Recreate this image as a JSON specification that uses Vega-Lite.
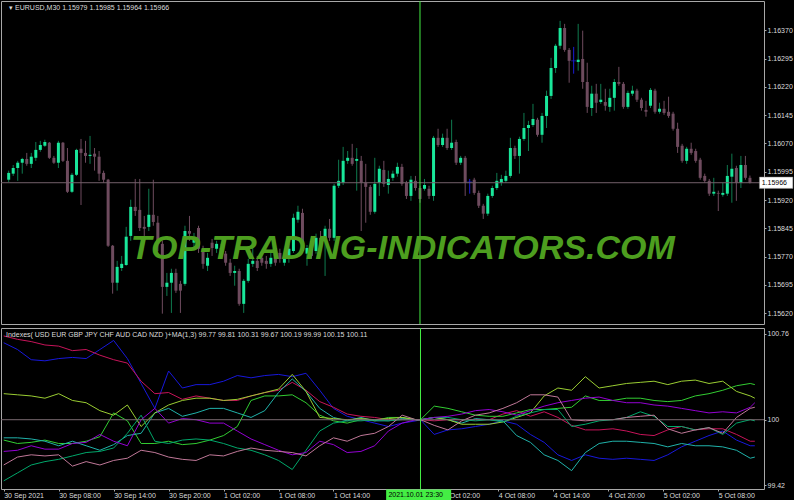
{
"$schema": "https://vega.github.io/schema/vega-lite/v6.json",
"background": "#000000",
"padding": 0,
"autosize": {"type": "pad"},
"spacing": 2,
"resolve": {"scale": {"x": "independent", "y": "independent", "color": "independent"}},
"config": {
  "view": {"stroke": "#a8a8a8", "strokeWidth": 1},
  "axis": {"grid": false, "domain": false, "title": null, "labelFont": "Liberation Sans", "labelFontSize": 7, "labelColor": "#dcdcdc", "tickColor": "#a8a8a8", "tickSize": 2, "labelPadding": 1, "labelBound": false, "labelFlush": false, "labelOverlap": false, "labelSeparation": 0},
  "text": {"font": "Liberation Sans"}
},
"datasets": {
"one": [{"k": 1}],
"candles": [
{"i":0,"o":1.15974,"h":1.15998,"l":1.15968,"c":1.15992},
{"i":1,"o":1.15990,"h":1.16013,"l":1.15984,"c":1.16005},
{"i":2,"o":1.16005,"h":1.16024,"l":1.15971,"c":1.16019},
{"i":3,"o":1.16019,"h":1.16032,"l":1.15990,"c":1.16029},
{"i":4,"o":1.16029,"h":1.16045,"l":1.16011,"c":1.16016},
{"i":5,"o":1.16016,"h":1.16045,"l":1.16005,"c":1.16035},
{"i":6,"o":1.16032,"h":1.16074,"l":1.16024,"c":1.16053},
{"i":7,"o":1.16053,"h":1.16077,"l":1.16048,"c":1.16066},
{"i":8,"o":1.16064,"h":1.16080,"l":1.16061,"c":1.16074},
{"i":9,"o":1.16072,"h":1.16074,"l":1.16029,"c":1.16032},
{"i":10,"o":1.16032,"h":1.16037,"l":1.16016,"c":1.16019},
{"i":11,"o":1.16019,"h":1.16077,"l":1.16005,"c":1.16072},
{"i":12,"o":1.16072,"h":1.16074,"l":1.16021,"c":1.16024},
{"i":13,"o":1.16024,"h":1.16058,"l":1.15939,"c":1.15942},
{"i":14,"o":1.15942,"h":1.15992,"l":1.15939,"c":1.15987},
{"i":15,"o":1.15987,"h":1.16056,"l":1.15984,"c":1.16053},
{"i":16,"o":1.16056,"h":1.16082,"l":1.15907,"c":1.16045},
{"i":17,"o":1.16045,"h":1.16077,"l":1.16019,"c":1.16037},
{"i":18,"o":1.16037,"h":1.16090,"l":1.16016,"c":1.16040},
{"i":19,"o":1.16043,"h":1.16058,"l":1.15998,"c":1.16035},
{"i":20,"o":1.16035,"h":1.16050,"l":1.15971,"c":1.15990},
{"i":21,"o":1.15992,"h":1.15998,"l":1.15966,"c":1.15974},
{"i":22,"o":1.15974,"h":1.15976,"l":1.15796,"c":1.15799},
{"i":23,"o":1.15799,"h":1.15801,"l":1.15672,"c":1.15701},
{"i":24,"o":1.15701,"h":1.15759,"l":1.15680,"c":1.15743},
{"i":25,"o":1.15740,"h":1.15772,"l":1.15732,"c":1.15751},
{"i":26,"o":1.15748,"h":1.15849,"l":1.15746,"c":1.15823},
{"i":27,"o":1.15825,"h":1.15921,"l":1.15812,"c":1.15902},
{"i":28,"o":1.15902,"h":1.15976,"l":1.15878,"c":1.15891},
{"i":29,"o":1.15894,"h":1.15976,"l":1.15838,"c":1.15846},
{"i":30,"o":1.15849,"h":1.15878,"l":1.15825,"c":1.15844},
{"i":31,"o":1.15849,"h":1.15950,"l":1.15838,"c":1.15881},
{"i":32,"o":1.15881,"h":1.15974,"l":1.15852,"c":1.15862},
{"i":33,"o":1.15860,"h":1.15878,"l":1.15785,"c":1.15804},
{"i":34,"o":1.15804,"h":1.15812,"l":1.15619,"c":1.15690},
{"i":35,"o":1.15690,"h":1.15727,"l":1.15666,"c":1.15701},
{"i":36,"o":1.15701,"h":1.15738,"l":1.15621,"c":1.15727},
{"i":37,"o":1.15727,"h":1.15738,"l":1.15674,"c":1.15680},
{"i":38,"o":1.15698,"h":1.15706,"l":1.15621,"c":1.15680},
{"i":39,"o":1.15698,"h":1.15852,"l":1.15693,"c":1.15838},
{"i":40,"o":1.15838,"h":1.15878,"l":1.15812,"c":1.15831},
{"i":41,"o":1.15807,"h":1.15833,"l":1.15791,"c":1.15820},
{"i":42,"o":1.15846,"h":1.15852,"l":1.15780,"c":1.15791},
{"i":43,"o":1.15791,"h":1.15799,"l":1.15738,"c":1.15751},
{"i":44,"o":1.15746,"h":1.15780,"l":1.15732,"c":1.15767},
{"i":45,"o":1.15807,"h":1.15817,"l":1.15772,"c":1.15793},
{"i":46,"o":1.15791,"h":1.15812,"l":1.15780,"c":1.15804},
{"i":47,"o":1.15793,"h":1.15804,"l":1.15764,"c":1.15778},
{"i":48,"o":1.15778,"h":1.15785,"l":1.15746,"c":1.15754},
{"i":49,"o":1.15754,"h":1.15764,"l":1.15719,"c":1.15727},
{"i":50,"o":1.15727,"h":1.15746,"l":1.15693,"c":1.15732},
{"i":51,"o":1.15732,"h":1.15738,"l":1.15640,"c":1.15645},
{"i":52,"o":1.15645,"h":1.15711,"l":1.15621,"c":1.15706},
{"i":53,"o":1.15706,"h":1.15764,"l":1.15701,"c":1.15751},
{"i":54,"o":1.15751,"h":1.15799,"l":1.15743,"c":1.15759},
{"i":55,"o":1.15759,"h":1.15772,"l":1.15732,"c":1.15740},
{"i":56,"o":1.15767,"h":1.15778,"l":1.15746,"c":1.15754},
{"i":57,"o":1.15759,"h":1.15772,"l":1.15738,"c":1.15751},
{"i":58,"o":1.15751,"h":1.15785,"l":1.15743,"c":1.15767},
{"i":59,"o":1.15793,"h":1.15799,"l":1.15746,"c":1.15754},
{"i":60,"o":1.15780,"h":1.15791,"l":1.15754,"c":1.15764},
{"i":61,"o":1.15754,"h":1.15780,"l":1.15746,"c":1.15767},
{"i":62,"o":1.15764,"h":1.15804,"l":1.15754,"c":1.15791},
{"i":63,"o":1.15785,"h":1.15884,"l":1.15780,"c":1.15873},
{"i":64,"o":1.15868,"h":1.15905,"l":1.15860,"c":1.15889},
{"i":65,"o":1.15886,"h":1.15897,"l":1.15780,"c":1.15785},
{"i":66,"o":1.15778,"h":1.15801,"l":1.15746,"c":1.15793},
{"i":67,"o":1.15812,"h":1.15825,"l":1.15764,"c":1.15772},
{"i":68,"o":1.15785,"h":1.15831,"l":1.15778,"c":1.15820},
{"i":69,"o":1.15820,"h":1.15838,"l":1.15791,"c":1.15799},
{"i":70,"o":1.15820,"h":1.15852,"l":1.15719,"c":1.15844},
{"i":71,"o":1.15844,"h":1.15870,"l":1.15812,"c":1.15820},
{"i":72,"o":1.15820,"h":1.15963,"l":1.15812,"c":1.15958},
{"i":73,"o":1.15958,"h":1.16027,"l":1.15952,"c":1.15971},
{"i":74,"o":1.15966,"h":1.16061,"l":1.15960,"c":1.16024},
{"i":75,"o":1.16024,"h":1.16050,"l":1.16016,"c":1.16032},
{"i":76,"o":1.16032,"h":1.16069,"l":1.16011,"c":1.16016},
{"i":77,"o":1.16024,"h":1.16058,"l":1.15945,"c":1.16029},
{"i":78,"o":1.16024,"h":1.16037,"l":1.15838,"c":1.15966},
{"i":79,"o":1.15966,"h":1.16016,"l":1.15860,"c":1.15955},
{"i":80,"o":1.15955,"h":1.15960,"l":1.15881,"c":1.15889},
{"i":81,"o":1.15889,"h":1.16032,"l":1.15884,"c":1.15963},
{"i":82,"o":1.15966,"h":1.16011,"l":1.15931,"c":1.16003},
{"i":83,"o":1.16000,"h":1.16024,"l":1.15955,"c":1.15963},
{"i":84,"o":1.15960,"h":1.15998,"l":1.15937,"c":1.15976},
{"i":85,"o":1.15979,"h":1.15998,"l":1.15971,"c":1.15990},
{"i":86,"o":1.15990,"h":1.16019,"l":1.15982,"c":1.16008},
{"i":87,"o":1.16008,"h":1.16016,"l":1.15958,"c":1.15963},
{"i":88,"o":1.15966,"h":1.15971,"l":1.15923,"c":1.15931},
{"i":89,"o":1.15931,"h":1.15984,"l":1.15918,"c":1.15974},
{"i":90,"o":1.15971,"h":1.15984,"l":1.15945,"c":1.15952},
{"i":91,"o":1.15952,"h":1.15958,"l":1.15913,"c":1.15923},
{"i":92,"o":1.15950,"h":1.15976,"l":1.15945,"c":1.15960},
{"i":93,"o":1.15950,"h":1.15958,"l":1.15923,"c":1.15931},
{"i":94,"o":1.15931,"h":1.16090,"l":1.15918,"c":1.16085},
{"i":95,"o":1.16085,"h":1.16109,"l":1.16061,"c":1.16066},
{"i":96,"o":1.16066,"h":1.16096,"l":1.16061,"c":1.16085},
{"i":97,"o":1.16085,"h":1.16109,"l":1.16053,"c":1.16058},
{"i":98,"o":1.16058,"h":1.16133,"l":1.16053,"c":1.16072},
{"i":99,"o":1.16074,"h":1.16080,"l":1.16013,"c":1.16019},
{"i":100,"o":1.16019,"h":1.16037,"l":1.16013,"c":1.16032},
{"i":101,"o":1.16032,"h":1.16037,"l":1.15931,"c":1.15966},
{"i":102,"o":1.15968,"h":1.15976,"l":1.15937,"c":1.15968},
{"i":103,"o":1.15974,"h":1.15979,"l":1.15934,"c":1.15939},
{"i":104,"o":1.15939,"h":1.15945,"l":1.15899,"c":1.15905},
{"i":105,"o":1.15905,"h":1.15910,"l":1.15870,"c":1.15884},
{"i":106,"o":1.15884,"h":1.15937,"l":1.15878,"c":1.15931},
{"i":107,"o":1.15931,"h":1.15958,"l":1.15926,"c":1.15952},
{"i":108,"o":1.15952,"h":1.15992,"l":1.15947,"c":1.15971},
{"i":109,"o":1.15966,"h":1.15987,"l":1.15958,"c":1.15976},
{"i":110,"o":1.15971,"h":1.15998,"l":1.15966,"c":1.15984},
{"i":111,"o":1.15984,"h":1.16085,"l":1.15979,"c":1.16058},
{"i":112,"o":1.16058,"h":1.16064,"l":1.16029,"c":1.16037},
{"i":113,"o":1.16037,"h":1.16088,"l":1.15990,"c":1.16082},
{"i":114,"o":1.16082,"h":1.16151,"l":1.16077,"c":1.16111},
{"i":115,"o":1.16111,"h":1.16130,"l":1.16050,"c":1.16119},
{"i":116,"o":1.16119,"h":1.16175,"l":1.16114,"c":1.16135},
{"i":117,"o":1.16133,"h":1.16138,"l":1.16088,"c":1.16093},
{"i":118,"o":1.16093,"h":1.16151,"l":1.16072,"c":1.16143},
{"i":119,"o":1.16143,"h":1.16210,"l":1.16111,"c":1.16196},
{"i":120,"o":1.16196,"h":1.16297,"l":1.16188,"c":1.16270},
{"i":121,"o":1.16270,"h":1.16334,"l":1.16257,"c":1.16329},
{"i":122,"o":1.16329,"h":1.16395,"l":1.16321,"c":1.16376},
{"i":123,"o":1.16376,"h":1.16387,"l":1.16313,"c":1.16318},
{"i":124,"o":1.16318,"h":1.16323,"l":1.16231,"c":1.16289},
{"i":125,"o":1.16289,"h":1.16326,"l":1.16255,"c":1.16289},
{"i":126,"o":1.16286,"h":1.16387,"l":1.16263,"c":1.16292},
{"i":127,"o":1.16294,"h":1.16369,"l":1.16215,"c":1.16233},
{"i":128,"o":1.16233,"h":1.16284,"l":1.16151,"c":1.16167},
{"i":129,"o":1.16164,"h":1.16223,"l":1.16143,"c":1.16202},
{"i":130,"o":1.16202,"h":1.16228,"l":1.16151,"c":1.16178},
{"i":131,"o":1.16180,"h":1.16228,"l":1.16175,"c":1.16186},
{"i":132,"o":1.16180,"h":1.16215,"l":1.16157,"c":1.16170},
{"i":133,"o":1.16167,"h":1.16215,"l":1.16154,"c":1.16191},
{"i":134,"o":1.16191,"h":1.16241,"l":1.16157,"c":1.16233},
{"i":135,"o":1.16233,"h":1.16273,"l":1.16223,"c":1.16228},
{"i":136,"o":1.16228,"h":1.16233,"l":1.16162,"c":1.16167},
{"i":137,"o":1.16167,"h":1.16210,"l":1.16162,"c":1.16204},
{"i":138,"o":1.16202,"h":1.16223,"l":1.16196,"c":1.16210},
{"i":139,"o":1.16210,"h":1.16215,"l":1.16180,"c":1.16186},
{"i":140,"o":1.16186,"h":1.16191,"l":1.16157,"c":1.16164},
{"i":141,"o":1.16159,"h":1.16183,"l":1.16141,"c":1.16154},
{"i":142,"o":1.16170,"h":1.16217,"l":1.16164,"c":1.16212},
{"i":143,"o":1.16210,"h":1.16215,"l":1.16149,"c":1.16154},
{"i":144,"o":1.16154,"h":1.16178,"l":1.16149,"c":1.16162},
{"i":145,"o":1.16162,"h":1.16183,"l":1.16146,"c":1.16151},
{"i":146,"o":1.16154,"h":1.16194,"l":1.16138,"c":1.16143},
{"i":147,"o":1.16149,"h":1.16154,"l":1.16104,"c":1.16109},
{"i":148,"o":1.16109,"h":1.16125,"l":1.16045,"c":1.16061},
{"i":149,"o":1.16064,"h":1.16069,"l":1.16019,"c":1.16024},
{"i":150,"o":1.16024,"h":1.16061,"l":1.16016,"c":1.16056},
{"i":151,"o":1.16056,"h":1.16072,"l":1.16040,"c":1.16045},
{"i":152,"o":1.16050,"h":1.16056,"l":1.16019,"c":1.16024},
{"i":153,"o":1.16027,"h":1.16032,"l":1.15974,"c":1.15979},
{"i":154,"o":1.15984,"h":1.15990,"l":1.15966,"c":1.15971},
{"i":155,"o":1.15971,"h":1.15976,"l":1.15931,"c":1.15937},
{"i":156,"o":1.15937,"h":1.15979,"l":1.15931,"c":1.15942},
{"i":157,"o":1.15939,"h":1.15945,"l":1.15891,"c":1.15937},
{"i":158,"o":1.15934,"h":1.15966,"l":1.15929,"c":1.15939},
{"i":159,"o":1.15937,"h":1.16013,"l":1.15931,"c":1.15984},
{"i":160,"o":1.15982,"h":1.16043,"l":1.15913,"c":1.16003},
{"i":161,"o":1.16005,"h":1.16011,"l":1.15918,"c":1.15966},
{"i":162,"o":1.15966,"h":1.16037,"l":1.15952,"c":1.16013},
{"i":163,"o":1.16013,"h":1.16037,"l":1.15974,"c":1.15979},
{"i":164,"o":1.15979,"h":1.15985,"l":1.15964,"c":1.15966}
],
"idx": [
{"i":0,"USD":100.68,"EUR":100.74,"GBP":99.82,"JPY":99.84,"CHF":100.23,"AUD":99.46,"CAD":99.72,"NZD":99.60},
{"i":3,"USD":100.62,"EUR":100.71,"GBP":99.79,"JPY":99.84,"CHF":100.22,"AUD":99.53,"CAD":99.73,"NZD":99.67},
{"i":6,"USD":100.53,"EUR":100.69,"GBP":99.80,"JPY":99.83,"CHF":100.21,"AUD":99.60,"CAD":99.77,"NZD":99.69},
{"i":9,"USD":100.52,"EUR":100.66,"GBP":99.82,"JPY":99.81,"CHF":100.19,"AUD":99.63,"CAD":99.74,"NZD":99.68},
{"i":12,"USD":100.54,"EUR":100.65,"GBP":99.79,"JPY":99.77,"CHF":100.23,"AUD":99.65,"CAD":99.74,"NZD":99.69},
{"i":15,"USD":100.55,"EUR":100.61,"GBP":99.79,"JPY":99.81,"CHF":100.17,"AUD":99.68,"CAD":99.79,"NZD":99.59},
{"i":18,"USD":100.54,"EUR":100.62,"GBP":99.81,"JPY":99.77,"CHF":100.15,"AUD":99.71,"CAD":99.80,"NZD":99.63},
{"i":21,"USD":100.62,"EUR":100.57,"GBP":99.85,"JPY":99.73,"CHF":100.08,"AUD":99.72,"CAD":99.87,"NZD":99.60},
{"i":24,"USD":100.70,"EUR":100.53,"GBP":100.06,"JPY":99.78,"CHF":100.04,"AUD":99.75,"CAD":99.81,"NZD":99.64},
{"i":27,"USD":100.54,"EUR":100.50,"GBP":99.99,"JPY":99.86,"CHF":100.13,"AUD":99.88,"CAD":99.77,"NZD":99.66},
{"i":30,"USD":100.32,"EUR":100.34,"GBP":99.79,"JPY":99.88,"CHF":99.94,"AUD":100.04,"CAD":100.00,"NZD":99.73},
{"i":33,"USD":100.10,"EUR":100.23,"GBP":99.79,"JPY":100.06,"CHF":100.06,"AUD":99.81,"CAD":100.10,"NZD":99.71},
{"i":36,"USD":100.43,"EUR":100.24,"GBP":99.81,"JPY":100.10,"CHF":100.13,"AUD":99.79,"CAD":99.97,"NZD":99.67},
{"i":39,"USD":100.28,"EUR":100.18,"GBP":99.78,"JPY":100.03,"CHF":100.17,"AUD":99.82,"CAD":100.01,"NZD":99.65},
{"i":42,"USD":100.31,"EUR":100.21,"GBP":99.79,"JPY":100.06,"CHF":100.19,"AUD":99.83,"CAD":100.00,"NZD":99.64},
{"i":45,"USD":100.31,"EUR":100.19,"GBP":99.82,"JPY":100.10,"CHF":100.19,"AUD":99.82,"CAD":99.97,"NZD":99.69},
{"i":48,"USD":100.34,"EUR":100.17,"GBP":99.86,"JPY":100.10,"CHF":100.17,"AUD":99.79,"CAD":99.97,"NZD":99.68},
{"i":51,"USD":100.39,"EUR":100.17,"GBP":99.94,"JPY":100.06,"CHF":100.18,"AUD":99.75,"CAD":99.90,"NZD":99.72},
{"i":54,"USD":100.37,"EUR":100.21,"GBP":100.17,"JPY":100.02,"CHF":100.21,"AUD":99.73,"CAD":99.83,"NZD":99.75},
{"i":57,"USD":100.39,"EUR":100.24,"GBP":100.21,"JPY":100.08,"CHF":100.24,"AUD":99.69,"CAD":99.78,"NZD":99.73},
{"i":60,"USD":100.40,"EUR":100.26,"GBP":100.21,"JPY":100.24,"CHF":100.27,"AUD":99.64,"CAD":99.73,"NZD":99.72},
{"i":63,"USD":100.38,"EUR":100.33,"GBP":100.22,"JPY":100.36,"CHF":100.40,"AUD":99.56,"CAD":99.69,"NZD":99.71},
{"i":66,"USD":100.41,"EUR":100.26,"GBP":100.15,"JPY":100.25,"CHF":100.25,"AUD":99.73,"CAD":99.71,"NZD":99.68},
{"i":69,"USD":100.26,"EUR":100.16,"GBP":100.04,"JPY":100.10,"CHF":100.02,"AUD":99.90,"CAD":99.81,"NZD":99.77},
{"i":72,"USD":100.10,"EUR":100.11,"GBP":99.99,"JPY":100.02,"CHF":100.01,"AUD":99.97,"CAD":99.78,"NZD":99.84},
{"i":75,"USD":100.03,"EUR":100.05,"GBP":99.97,"JPY":99.99,"CHF":100.00,"AUD":99.99,"CAD":99.71,"NZD":99.81},
{"i":78,"USD":100.00,"EUR":100.03,"GBP":100.00,"JPY":100.02,"CHF":100.01,"AUD":99.99,"CAD":99.72,"NZD":99.86},
{"i":81,"USD":99.97,"EUR":100.02,"GBP":99.99,"JPY":99.99,"CHF":100.00,"AUD":100.00,"CAD":99.77,"NZD":99.88},
{"i":84,"USD":99.94,"EUR":100.00,"GBP":100.02,"JPY":99.99,"CHF":100.01,"AUD":99.99,"CAD":99.90,"NZD":99.94},
{"i":87,"USD":99.97,"EUR":100.00,"GBP":100.02,"JPY":100.01,"CHF":100.02,"AUD":100.00,"CAD":99.97,"NZD":100.04},
{"i":90,"USD":99.99,"EUR":100.00,"GBP":100.00,"JPY":100.00,"CHF":100.00,"AUD":100.00,"CAD":100.00,"NZD":100.00},
{"i":91,"USD":100.00,"EUR":100.00,"GBP":100.00,"JPY":100.00,"CHF":100.00,"AUD":100.00,"CAD":100.00,"NZD":100.00},
{"i":94,"USD":99.87,"EUR":99.99,"GBP":100.12,"JPY":100.02,"CHF":100.02,"AUD":100.02,"CAD":100.02,"NZD":99.95},
{"i":97,"USD":99.91,"EUR":100.00,"GBP":100.10,"JPY":100.00,"CHF":100.00,"AUD":100.02,"CAD":100.03,"NZD":99.91},
{"i":100,"USD":99.92,"EUR":100.00,"GBP":100.07,"JPY":99.97,"CHF":99.96,"AUD":100.00,"CAD":100.05,"NZD":99.99},
{"i":103,"USD":99.94,"EUR":100.00,"GBP":100.04,"JPY":100.01,"CHF":99.96,"AUD":99.99,"CAD":100.08,"NZD":100.04},
{"i":106,"USD":99.96,"EUR":100.00,"GBP":100.03,"JPY":100.00,"CHF":99.96,"AUD":100.00,"CAD":100.09,"NZD":100.06},
{"i":109,"USD":99.99,"EUR":100.05,"GBP":100.03,"JPY":99.99,"CHF":99.98,"AUD":99.98,"CAD":100.07,"NZD":100.10},
{"i":112,"USD":99.96,"EUR":100.08,"GBP":100.06,"JPY":99.86,"CHF":100.02,"AUD":100.03,"CAD":100.04,"NZD":100.15},
{"i":115,"USD":99.87,"EUR":100.03,"GBP":100.09,"JPY":99.80,"CHF":100.06,"AUD":100.06,"CAD":100.08,"NZD":100.22},
{"i":118,"USD":99.80,"EUR":100.07,"GBP":100.09,"JPY":99.69,"CHF":100.21,"AUD":100.09,"CAD":100.12,"NZD":100.22},
{"i":121,"USD":99.69,"EUR":100.02,"GBP":100.10,"JPY":99.64,"CHF":100.28,"AUD":100.09,"CAD":100.15,"NZD":100.20},
{"i":124,"USD":99.64,"EUR":99.95,"GBP":100.11,"JPY":99.55,"CHF":100.26,"AUD":99.94,"CAD":100.17,"NZD":100.00},
{"i":127,"USD":99.69,"EUR":99.91,"GBP":100.21,"JPY":99.71,"CHF":100.38,"AUD":99.96,"CAD":100.19,"NZD":99.99},
{"i":130,"USD":99.66,"EUR":99.91,"GBP":100.17,"JPY":99.79,"CHF":100.28,"AUD":99.99,"CAD":100.20,"NZD":100.00},
{"i":133,"USD":99.65,"EUR":99.92,"GBP":100.17,"JPY":99.81,"CHF":100.30,"AUD":100.00,"CAD":100.17,"NZD":100.00},
{"i":136,"USD":99.66,"EUR":99.90,"GBP":100.19,"JPY":99.81,"CHF":100.32,"AUD":100.02,"CAD":100.15,"NZD":100.02},
{"i":139,"USD":99.65,"EUR":99.87,"GBP":100.19,"JPY":99.80,"CHF":100.33,"AUD":100.07,"CAD":100.15,"NZD":100.03},
{"i":142,"USD":99.64,"EUR":99.86,"GBP":100.17,"JPY":99.79,"CHF":100.34,"AUD":100.03,"CAD":100.13,"NZD":100.04},
{"i":145,"USD":99.69,"EUR":99.91,"GBP":100.16,"JPY":99.76,"CHF":100.31,"AUD":99.94,"CAD":100.12,"NZD":99.92},
{"i":148,"USD":99.76,"EUR":99.94,"GBP":100.17,"JPY":99.79,"CHF":100.34,"AUD":99.94,"CAD":100.10,"NZD":99.88},
{"i":151,"USD":99.81,"EUR":99.91,"GBP":100.21,"JPY":99.77,"CHF":100.35,"AUD":99.91,"CAD":100.08,"NZD":99.91},
{"i":154,"USD":99.86,"EUR":99.92,"GBP":100.23,"JPY":99.77,"CHF":100.32,"AUD":99.93,"CAD":100.06,"NZD":99.93},
{"i":157,"USD":99.90,"EUR":99.92,"GBP":100.26,"JPY":99.76,"CHF":100.34,"AUD":99.87,"CAD":100.07,"NZD":99.88},
{"i":160,"USD":99.82,"EUR":99.87,"GBP":100.30,"JPY":99.73,"CHF":100.25,"AUD":99.97,"CAD":100.06,"NZD":100.02},
{"i":163,"USD":99.77,"EUR":99.81,"GBP":100.32,"JPY":99.66,"CHF":100.21,"AUD":100.00,"CAD":100.11,"NZD":100.10},
{"i":164,"USD":99.77,"EUR":99.81,"GBP":100.31,"JPY":99.67,"CHF":100.19,"AUD":99.99,"CAD":100.15,"NZD":100.11}
]
},
"vconcat": [
{
 "width": 763,
 "height": 323,
 "layer": [
  {
   "data": {"name": "candles"},
   "mark": {"type": "rule", "strokeWidth": 1},
   "encoding": {
    "x": {"field": "i", "type": "quantitative", "scale": {"domain": [-0.594, 166.006], "nice": false, "zero": false}, "axis": null},
    "y": {"field": "l", "type": "quantitative", "scale": {"domain": [1.155916, 1.164476], "nice": false, "zero": false},
          "axis": {"orient": "right", "labelOverlap": false, "labelSeparation": 0, "tickCount": 20, "values": [1.1562, 1.15695, 1.1577, 1.15845, 1.1592, 1.15995, 1.1607, 1.16145, 1.1622, 1.16295, 1.1637], "format": ".5f"}},
    "y2": {"field": "h"},
    "color": {"condition": [{"test": "datum.c > datum.o", "value": "#0f7a4f"}, {"test": "datum.c == datum.o", "value": "#1c1cd6"}], "value": "#6e4b5e"}
   }
  },
  {
   "data": {"name": "candles"},
   "mark": {"type": "bar", "size": 3},
   "encoding": {
    "x": {"field": "i", "type": "quantitative"},
    "y": {"field": "o", "type": "quantitative",
          "axis": {"orient": "right", "labelOverlap": false, "labelSeparation": 0, "tickCount": 20, "values": [1.1562, 1.15695, 1.1577, 1.15845, 1.1592, 1.15995, 1.1607, 1.16145, 1.1622, 1.16295, 1.1637], "format": ".5f"}},
    "y2": {"field": "c"},
    "color": {"condition": [{"test": "datum.c > datum.o", "value": "#19e69a"}, {"test": "datum.c == datum.o", "value": "#1c1cd6"}], "value": "#6e4b5e"}
   }
  },
  {
   "data": {"name": "candles"},
   "transform": [{"filter": "datum.c == datum.o"}],
   "mark": {"type": "tick", "orient": "horizontal", "size": 5, "thickness": 1, "color": "#1c1cd6"},
   "encoding": {
    "x": {"field": "i", "type": "quantitative"},
    "y": {"field": "o", "type": "quantitative",
          "axis": {"orient": "right", "labelOverlap": false, "labelSeparation": 0, "tickCount": 20, "values": [1.1562, 1.15695, 1.1577, 1.15845, 1.1592, 1.15995, 1.1607, 1.16145, 1.1622, 1.16295, 1.1637], "format": ".5f"}}
   }
  },
  {
   "data": {"name": "one"},
   "mark": {"type": "rule", "color": "#735f69", "strokeWidth": 1},
   "encoding": {"y": {"datum": 1.15966, "type": "quantitative"}}
  },
  {
   "data": {"name": "one"},
   "mark": {"type": "rule", "color": "#44ee44", "strokeWidth": 1},
   "encoding": {"x": {"datum": 91, "type": "quantitative"}}
  },
  {
   "data": {"name": "one"},
   "mark": {"type": "text", "text": "TOP-TRADING-INDICATORS.COM", "font": "Liberation Sans", "fontSize": 34, "fontWeight": "bold", "fontStyle": "italic", "color": "#4d9e1f", "align": "center", "baseline": "middle"},
   "encoding": {"x": {"datum": 87.2, "type": "quantitative"}, "y": {"datum": 1.15791, "type": "quantitative"}}
  },
  {
   "data": {"name": "one"},
   "mark": {"type": "text", "text": "▾ EURUSD,M30  1.15979 1.15985 1.15964 1.15966", "fontSize": 7, "color": "#dcdcdc", "align": "left", "baseline": "middle"},
   "encoding": {"x": {"datum": 0.1, "type": "quantitative"}, "y": {"datum": 1.16429, "type": "quantitative"}}
  },
  {
   "data": {"name": "one"},
   "mark": {"type": "rect", "fill": "#ffffff", "stroke": "#808080", "strokeWidth": 0.5},
   "encoding": {"x": {"datum": 166.1, "type": "quantitative"}, "x2": {"datum": 173.5}, "y": {"datum": 1.15981, "type": "quantitative"}, "y2": {"datum": 1.15951}}
  },
  {
   "data": {"name": "one"},
   "mark": {"type": "text", "text": "1.15966", "fontSize": 7, "color": "#000000", "align": "left", "baseline": "middle"},
   "encoding": {"x": {"datum": 166.6, "type": "quantitative"}, "y": {"datum": 1.15966, "type": "quantitative"}}
  }
 ]
},
{
 "width": 763,
 "height": 161,
 "layer": [
  {
   "data": {"name": "idx"},
   "transform": [{"fold": ["USD", "EUR", "GBP", "JPY", "CHF", "AUD", "CAD", "NZD"], "as": ["cur", "val"]}],
   "mark": {"type": "line", "strokeWidth": 1},
   "encoding": {
    "x": {"field": "i", "type": "quantitative", "scale": {"domain": [-0.594, 166.006], "nice": false, "zero": false},
          "axis": {"values": [0, 12, 24, 36, 48, 60, 72, 96, 108, 120, 132, 144, 156], "labelAlign": "left", "labelPadding": 0, "labelOverlap": false,
                   "labelExpr": "['30 Sep 2021','30 Sep 08:00','30 Sep 14:00','30 Sep 20:00','1 Oct 02:00','1 Oct 08:00','1 Oct 14:00','1 Oct 20:00','4 Oct 02:00','4 Oct 08:00','4 Oct 14:00','4 Oct 20:00','5 Oct 02:00','5 Oct 08:00'][round(datum.value/12)]"}},
    "y": {"field": "val", "type": "quantitative", "scale": {"domain": [99.388, 100.81], "nice": false, "zero": false},
          "axis": {"orient": "right", "labelOverlap": false, "values": [99.42, 100, 100.76], "labelExpr": "datum.value == 100 ? '100' : format(datum.value, '.2f')"}},
    "color": {"field": "cur", "type": "nominal", "legend": null,
              "scale": {"domain": ["USD", "EUR", "GBP", "JPY", "CHF", "AUD", "CAD", "NZD"], "range": ["#1818dc", "#c8145a", "#32cd32", "#20b2aa", "#9acd32", "#00a86b", "#9400d3", "#c07898"]}}
   }
  },
  {
   "data": {"name": "one"},
   "mark": {"type": "rule", "color": "#7a6a70", "strokeWidth": 1},
   "encoding": {"y": {"datum": 100, "type": "quantitative"}}
  },
  {
   "data": {"name": "one"},
   "mark": {"type": "rule", "color": "#44ee44", "strokeWidth": 1},
   "encoding": {"x": {"datum": 91, "type": "quantitative"}}
  },
  {
   "data": {"name": "one"},
   "mark": {"type": "text", "text": "Indexes( USD EUR GBP JPY CHF AUD CAD NZD )+MA(1,3) 99.77 99.81 100.31 99.67 100.19 99.99 100.15 100.11", "fontSize": 7, "color": "#dcdcdc", "align": "left", "baseline": "middle"},
   "encoding": {"x": {"datum": 0.5, "type": "quantitative"}, "y": {"datum": 100.745, "type": "quantitative"}}
  },
  {
   "data": {"name": "one"},
   "mark": {"type": "rect", "fill": "#44ee44"},
   "encoding": {"x": {"datum": 83.5, "type": "quantitative"}, "x2": {"datum": 97.7}, "y": {"datum": 99.384, "type": "quantitative"}, "y2": {"datum": 99.282}}
  },
  {
   "data": {"name": "one"},
   "mark": {"type": "text", "text": "2021.10.01 23:30", "fontSize": 7, "color": "#000000", "align": "left", "baseline": "middle"},
   "encoding": {"x": {"datum": 84.0, "type": "quantitative"}, "y": {"datum": 99.335, "type": "quantitative"}}
  }
 ]
}
]
}
